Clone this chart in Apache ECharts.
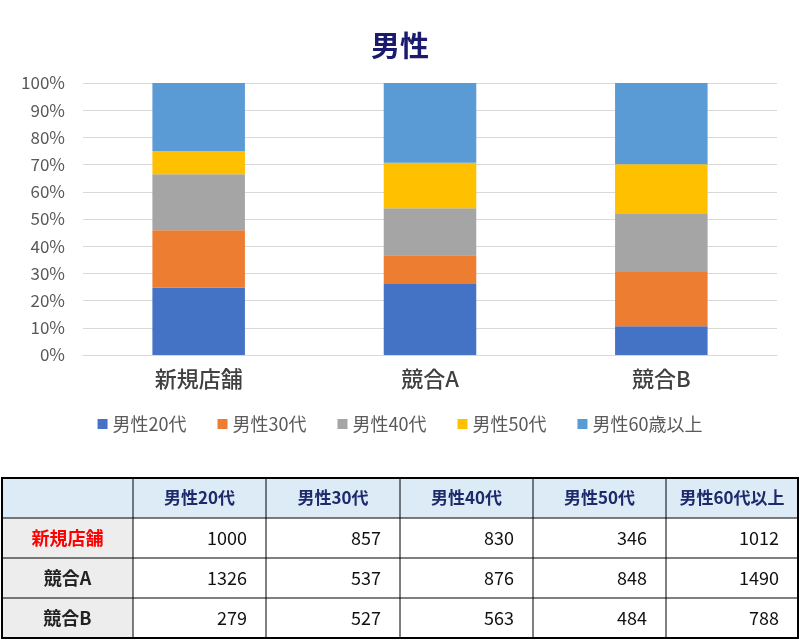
<!DOCTYPE html>
<html><head><meta charset="utf-8">
<script src="https://cdn.jsdelivr.net/npm/echarts@6/dist/echarts.min.js"></script>
<style>html,body{margin:0;padding:0;background:#fff}#c{width:800px;height:640px}</style>
</head><body><div id="c"></div>
<script>
const categories = ['新規店舗', '競合A', '競合B'];
const legendNames = ['男性20代', '男性30代', '男性40代', '男性50代', '男性60歳以上'];
const tableHeaders = ['男性20代', '男性30代', '男性40代', '男性50代', '男性60代以上'];
const s20 = [1000, 1326, 279];
const s30 = [857, 537, 527];
const s40 = [830, 876, 563];
const s50 = [346, 848, 484];
const s60 = [1012, 1490, 788];
const colors = ['#4472C4', '#ED7D31', '#A5A5A5', '#FFC000', '#5B9BD5'];

const seriesVals = [s20, s30, s40, s50, s60];
const totals = categories.map((_, i) => seriesVals.reduce((a, s) => a + s[i], 0));
const FONT = '"Noto Sans CJK JP", "Noto Sans", sans-serif';

// Table graphics
const colX = [2, 133, 266, 400, 533, 666, 798];
const rowY = [478, 518, 558, 598, 638];
const g = [];
g.push({type:'rect', shape:{x:colX[0], y:rowY[0], width:colX[6]-colX[0], height:rowY[1]-rowY[0]}, style:{fill:'#DDEBF7'}});
g.push({type:'rect', shape:{x:colX[0], y:rowY[1], width:colX[1]-colX[0], height:rowY[4]-rowY[1]}, style:{fill:'#EDEDED'}});
for (let i = 1; i < 6; i++) g.push({type:'line', shape:{x1:colX[i], y1:rowY[0], x2:colX[i], y2:rowY[4]}, style:{stroke:'#000', lineWidth:1}});
for (let j = 1; j < 4; j++) g.push({type:'line', shape:{x1:colX[0], y1:rowY[j], x2:colX[6], y2:rowY[j]}, style:{stroke:'#000', lineWidth:1}});
g.push({type:'rect', shape:{x:colX[0], y:rowY[0], width:colX[6]-colX[0], height:rowY[4]-rowY[0]}, style:{fill:'none', stroke:'#000', lineWidth:2}});
tableHeaders.forEach((h, i) => {
  g.push({type:'text', x:(colX[i+1]+colX[i+2])/2, y:(rowY[0]+rowY[1])/2, style:{text:h, fill:'#1F2A6B', font:'bold 17px ' + FONT, align:'center', verticalAlign:'middle'}});
});
categories.forEach((c, r) => {
  g.push({type:'text', x:(colX[0]+colX[1])/2, y:(rowY[r+1]+rowY[r+2])/2, style:{text:c, fill: r === 0 ? '#FF0000' : '#222', font:'bold 18px ' + FONT, align:'center', verticalAlign:'middle'}});
  seriesVals.forEach((s, k) => {
    g.push({type:'text', x:colX[k+2]-19, y:(rowY[r+1]+rowY[r+2])/2, style:{text:String(s[r]), fill:'#111', font:'18px ' + FONT, align:'right', verticalAlign:'middle'}});
  });
});

const chart = echarts.init(document.getElementById('c'));
chart.setOption({
  backgroundColor: '#fff',
  animation: false,
  title: {text: '男性', left: 'center', top: 26, textStyle: {fontFamily: FONT, fontSize: 29, fontWeight: 'bold', color: '#1A1A6E'}},
  grid: {left: 83, right: 23, top: 83, bottom: 285, containLabel: false},
  legend: {
    data: legendNames, top: 410, left: 'center', itemWidth: 10, itemHeight: 10, itemGap: 31, icon: 'rect',
    textStyle: {fontFamily: FONT, fontSize: 18, color: '#595959'}
  },
  xAxis: {
    type: 'category', data: categories,
    axisLine: {lineStyle: {color: '#D9D9D9'}}, axisTick: {show: false},
    axisLabel: {fontFamily: FONT, fontSize: 22, fontWeight: 500, color: '#404040', margin: 13}
  },
  yAxis: {
    type: 'value', min: 0, max: 1, interval: 0.1,
    axisLine: {show: false}, axisTick: {show: false},
    splitLine: {lineStyle: {color: '#D9D9D9'}},
    axisLabel: {fontFamily: FONT, fontSize: 17, color: '#595959', margin: 18, formatter: v => Math.round(v * 100) + '%'}
  },
  series: seriesVals.map((s, k) => ({
    name: legendNames[k], type: 'bar', stack: 'all', barWidth: '40%',
    itemStyle: {color: colors[k]},
    data: s.map((v, i) => v / totals[i])
  })),
  graphic: g
});
</script></body></html>
